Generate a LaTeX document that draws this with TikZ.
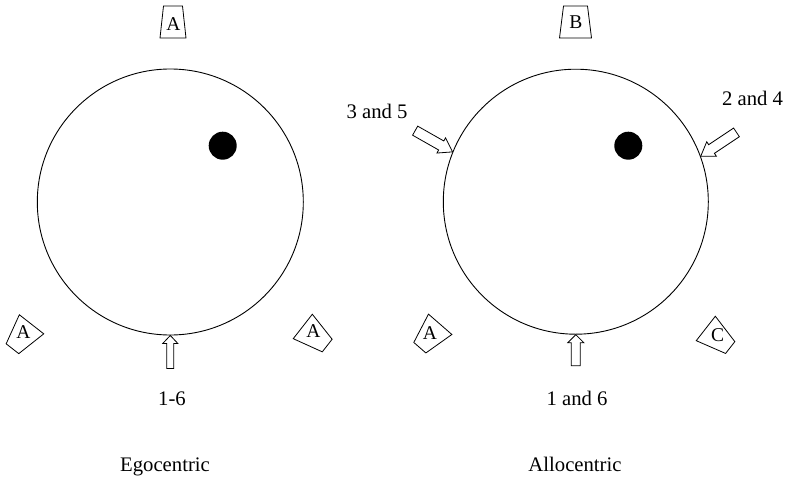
\documentclass[tikz,border=0pt]{standalone}
\usepackage{fontspec}
\setmainfont{Liberation Serif}
\newcommand\blockarrow[6]{% #1 tip, #2 angle, #3 length, #4 head length, #5 head half width, #6 shaft half width
  \draw[blk, shift={(#1)}, rotate=#2] (0,0) -- (-#4,#5) -- (-#4,#6) -- (-#3,#6) -- (-#3,-#6) -- (-#4,-#6) -- (-#4,-#5) -- cycle;}
\newcommand\landmark[5]{% #1 centre, #2 rotation, #3 short half, #4 long half, #5 half height
  \draw[blk, shift={(#1)}, rotate=#2] (-#4,-#5) -- (#4,-#5) -- (#3,#5) -- (-#3,#5) -- cycle;}
\begin{document}
\begin{tikzpicture}[x=1pt,y=1pt, line width=0.9pt,
  lbl/.style={font=\fontsize{20.7}{24}\selectfont, inner sep=0pt, anchor=base},
  lm/.style={font=\fontsize{19.5}{22}\selectfont, inner sep=0pt},
  ring/.style={draw, circle, minimum size=266pt, inner sep=0pt},
  dot/.style={fill, circle, minimum size=28pt, inner sep=0pt},
  blk/.style={draw, fill=white, line width=0.8pt, line join=miter}]
\useasboundingbox (0,0) rectangle (792,-479);

% Egocentric
\node[ring] (egoc) at (170.3,-202) {};
\node[dot] (egodot) at (222.7,-145.7) {};
\landmark{173,-22}{0}{9.5}{13}{16}
\node[lm] (egoA1) at (173.3,-24.2) {A};
\landmark{22,-336.5}{142}{8}{15.5}{15.5}
\node[lm] (egoA2) at (23.3,-331.7) {A};
\landmark{315,-336}{-128}{8}{15.5}{15.5}
\node[lm] (egoA3) at (313.3,-331.5) {A};
\blockarrow{egoc.south}{90}{33}{8}{7.5}{3.5}
\node[lbl] (ego16) at (172,-405) {1-6};
\node[lbl] (egotitle) at (165,-471) {Egocentric};

% Allocentric
\node[ring, minimum size=265pt] (allo) at (575.8,-201.7) {};
\node[dot] (allodot) at (628.3,-145.7) {};
\landmark{575.5,-22}{0}{12}{16}{16}
\node[lm] (alloB) at (575.8,-22.5) {B};
\landmark{430,-336}{139}{8}{15.5}{15.5}
\node[lm] (alloA) at (430,-333) {A};
\landmark{718,-338}{-128}{7.5}{15.5}{15.5}
\node[lm] (alloC) at (717.5,-335) {C};
\blockarrow{allo.south}{90}{31}{8}{8}{4.5}
\blockarrow{allo.158.6}{-29.6}{43}{13}{8.7}{5.2}
\blockarrow{allo.20}{213.7}{43}{13}{8.7}{5.2}
\node[lbl] (allo16) at (577,-405) {1 and 6};
\node[lbl] (allo35) at (377,-118) {3 and 5};
\node[lbl] (allo24) at (752.5,-105) {2 and 4};
\node[lbl] (allotitle) at (575,-471) {Allocentric};
\end{tikzpicture}
\end{document}
